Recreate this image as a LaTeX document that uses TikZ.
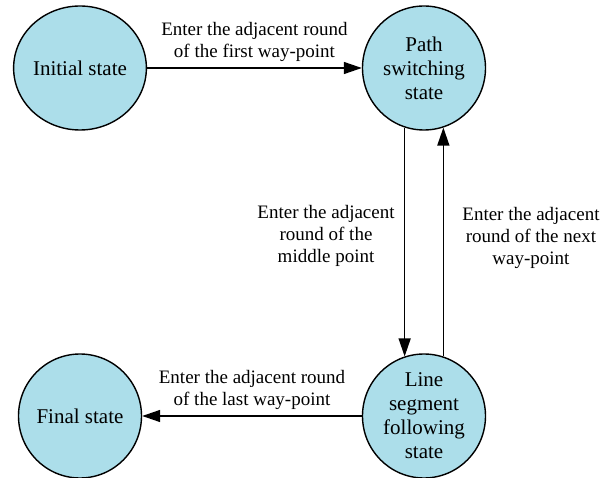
\documentclass[tikz,border=0pt]{standalone}
\usepackage{fontspec}
\setmainfont{Liberation Serif}
\usetikzlibrary{arrows.meta,shapes.geometric}
\definecolor{statefill}{RGB}{172,222,234}

\begin{document}
\begin{tikzpicture}[x=1pt,y=-1pt,
  state/.style={ellipse,draw,line width=1.4pt,fill=statefill,inner sep=0pt,
    minimum width=123pt,minimum height=124pt,align=center,
    font=\fontsize{21}{24}\selectfont},
  trans/.style={line width=1.4pt,-{Triangle[length=18pt,width=12pt]}},
  lbl/.style={align=center,font=\fontsize{19}{22}\selectfont}]
\useasboundingbox (0,0) rectangle (611,478);
%\draw[help lines,step=50] (0,0) grid (611,478);
\foreach \x/\y/\n/\t in {80/68/init/Initial state, 424/68/psw/Path\\switching\\state,
  80/416/final/Final state, 424/416/lsf/Line\\segment\\following\\state}
  \node[state] (\n) at (\x,\y) {\t};

\draw[trans] (init) -- node[lbl,above=2pt] {Enter the adjacent round\\of the first way-point} (psw);
\draw[trans] (psw.252) -- node[lbl,left=6pt,yshift=6pt] {Enter the adjacent\\round of the\\middle point} (lsf.108);
\draw[trans] (lsf.72) -- node[lbl,right=15pt,yshift=4pt] {Enter the adjacent\\round of the next\\way-point} (psw.288);
\draw[trans] (lsf) -- node[lbl,above=2pt] {Enter the adjacent round\\of the last way-point} (final);
\end{tikzpicture}
\end{document}
